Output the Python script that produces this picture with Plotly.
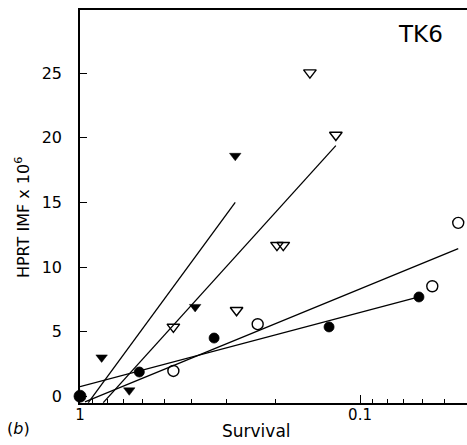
import plotly.graph_objects as go

# ---- data ----
fc_x = [1.0, 0.614, 0.332, 0.129, 0.0616]
fc_y = [0.0, 1.87, 4.5, 5.36, 7.68]

oc_x = [0.464, 0.232, 0.0552, 0.0446]
oc_y = [1.95, 5.57, 8.51, 13.42]

ft_x = [0.837, 0.667, 0.388, 0.279]
ft_y = [3.0, 0.45, 6.91, 18.61]

ot_x = [0.464, 0.276, 0.198, 0.188, 0.151, 0.122]
ot_y = [5.36, 6.65, 11.69, 11.69, 25.05, 20.22]

# regression lines (end points)
fit_ft_x = [0.934, 0.279]
fit_ft_y = [-0.5, 15.0]
fit_ot_x = [0.826, 0.122]
fit_ot_y = [-0.5, 19.4]
fit_oc_x = [0.96, 0.0446]
fit_oc_y = [-0.45, 11.43]
fit_fc_x = [1.0, 0.0616]
fit_fc_y = [0.73, 7.68]

y_ticks = [0, 5, 10, 15, 20, 25]
x_ticks = [1, 0.1]
x_tick_text = ["1", "0.1"]
x_minor = [0.9, 0.8, 0.7, 0.6, 0.5, 0.4, 0.3, 0.2, 0.09, 0.08, 0.07, 0.06, 0.05]

FONT = "DejaVu Sans"
fig = go.Figure()

for lx, ly in [(fit_ft_x, fit_ft_y), (fit_ot_x, fit_ot_y),
               (fit_oc_x, fit_oc_y), (fit_fc_x, fit_fc_y)]:
    fig.add_trace(go.Scatter(x=lx, y=ly, mode="lines",
                             line=dict(color="black", width=1.3),
                             showlegend=False))

fig.add_trace(go.Scatter(x=oc_x, y=oc_y, mode="markers", showlegend=False,
                         marker=dict(symbol="circle-open", size=11, color="black",
                                     line=dict(width=1.4, color="black"))))
fig.add_trace(go.Scatter(x=ot_x, y=ot_y, mode="markers", showlegend=False,
                         marker=dict(symbol="triangle-down-open", size=11, color="black",
                                     line=dict(width=1.4, color="black"))))
fig.add_trace(go.Scatter(x=ft_x, y=ft_y, mode="markers", showlegend=False,
                         marker=dict(symbol="triangle-down", size=10, color="#000000",
                                     opacity=1, line=dict(width=0.5, color="#000000"))))
fig.add_trace(go.Scatter(x=fc_x, y=fc_y, mode="markers", showlegend=False, cliponaxis=False,
                         marker=dict(symbol="circle", color="#000000", opacity=1,
                                     size=[12 if v == 1.0 else 10 for v in fc_x],
                                     line=dict(width=0.8, color="#000000"))))

fig.update_layout(
    width=467, height=445,
    margin=dict(l=80, r=0, t=10, b=42),
    paper_bgcolor="white", plot_bgcolor="white",
    font=dict(family=FONT, color="black", size=15),
    xaxis=dict(type="log", range=[0, -1.382], showgrid=False, zeroline=False,
               showline=True, linecolor="black", linewidth=1.5, mirror=True,
               ticks="inside", ticklen=8, tickwidth=1.2, tickcolor="black",
               tickvals=x_ticks, ticktext=x_tick_text,
               tickfont=dict(family=FONT, size=15), ticklabelstandoff=-3,
               minor=dict(tickvals=x_minor, ticks="inside", ticklen=4,
                          tickwidth=1, tickcolor="black")),
    yaxis=dict(range=[-0.53, 29.9], showgrid=False, zeroline=False,
               showline=True, linecolor="black", linewidth=1.5,
               ticks="inside", ticklen=7, tickwidth=1.2, tickcolor="black",
               tickvals=y_ticks, tickfont=dict(family=FONT, size=16),
               ticklabelstandoff=13),
    annotations=[
        dict(text="Survival", xref="paper", yref="paper", x=0.457, y=-0.072,
             showarrow=False, font=dict(family=FONT, size=17),
             xanchor="center", yanchor="middle"),
        dict(text="HPRT IMF x 10<sup>6</sup>", xref="paper", yref="paper",
             x=-0.15, y=0.473, textangle=-90, showarrow=False,
             font=dict(family=FONT, size=16), xanchor="center", yanchor="middle"),
        dict(text="(<i>b</i>)", xref="paper", yref="paper", x=-0.160, y=-0.064,
             showarrow=False, font=dict(family=FONT, size=16),
             xanchor="center", yanchor="middle"),
        dict(text="TK6", xref="paper", yref="paper", x=0.879, y=0.939,
             showarrow=False, font=dict(family=FONT, size=23),
             xanchor="center", yanchor="middle"),
    ],
)

fig.write_html("out.html")
